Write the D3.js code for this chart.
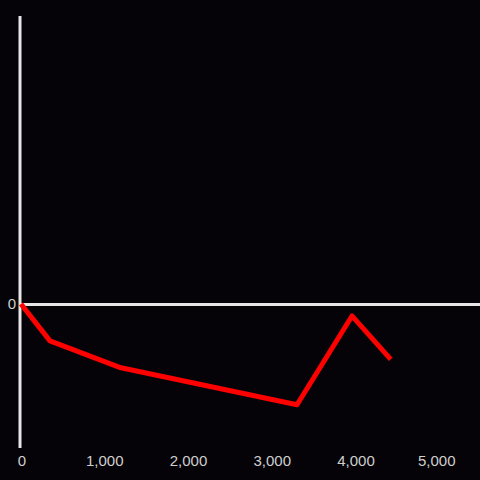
<!DOCTYPE html>
<html>
<head>
<meta charset="utf-8">
<script src="https://cdn.jsdelivr.net/npm/d3@7"></script>
<style>
  html, body { margin: 0; padding: 0; background: #050307; }
</style>
</head>
<body>
<div id="chart"></div>
<script>
const xValues = [0, 346, 1194, 3296, 3952, 4415];
const yValues = [0, -25.6, -44.3, -70, -8.3, -38.5];
const xTicks = [0, 1000, 2000, 3000, 4000, 5000];
const yTicks = [0];

function init() {
    const w = 480;
    const h = 480;
    const data = xValues.map((x, i) => ({ x: x, y: yValues[i] }));

    const xScale = d3.scaleLinear()
        .domain([0, 4000])
        .range([21, 356]);

    const yScale = d3.scaleLinear()
        .domain([-100, 200])
        .range([448, 16]);

    const svg = d3.select("#chart")
        .append("svg")
        .attr("width", w)
        .attr("height", h)
        .style("background", "#050307");

    // vertical axis line
    svg.append("line")
        .attr("x1", xScale(0) - 1)
        .attr("x2", xScale(0) - 1)
        .attr("y1", yScale.range()[1])
        .attr("y2", yScale.range()[0])
        .attr("stroke", "#e6e6e6")
        .attr("stroke-width", 3);

    // zero line
    svg.append("line")
        .attr("x1", xScale(0) - 1)
        .attr("x2", w)
        .attr("y1", yScale(0) + 0.5)
        .attr("y2", yScale(0) + 0.5)
        .attr("stroke", "#e6e6e6")
        .attr("stroke-width", 3);

    // x tick labels
    svg.selectAll(".xlab")
        .data(xTicks)
        .enter()
        .append("text")
        .attr("class", "xlab")
        .attr("x", d => xScale(d) + (d === 0 ? 1 : 0) - (d === 5000 ? 3 : 0))
        .attr("y", 466)
        .attr("text-anchor", "middle")
        .attr("font-family", "Liberation Sans, Arial, sans-serif")
        .attr("font-size", "15px")
        .attr("fill", "#cfcfcf")
        .text(d => d3.format(",")(d));

    // y tick labels
    svg.selectAll(".ylab")
        .data(yTicks)
        .enter()
        .append("text")
        .attr("class", "ylab")
        .attr("x", 16)
        .attr("y", d => yScale(d) + 5)
        .attr("text-anchor", "end")
        .attr("font-family", "Liberation Sans, Arial, sans-serif")
        .attr("font-size", "15px")
        .attr("fill", "#cfcfcf")
        .text(d => d);

    const line = d3.line()
        .x(d => xScale(d.x))
        .y(d => yScale(d.y));

    svg.append("path")
        .datum(data)
        .attr("fill", "none")
        .attr("stroke", "#ff0000")
        .attr("stroke-width", 5)
        .attr("stroke-linejoin", "round")
        .attr("d", line);
}

window.onload = init;
</script>
</body>
</html>
